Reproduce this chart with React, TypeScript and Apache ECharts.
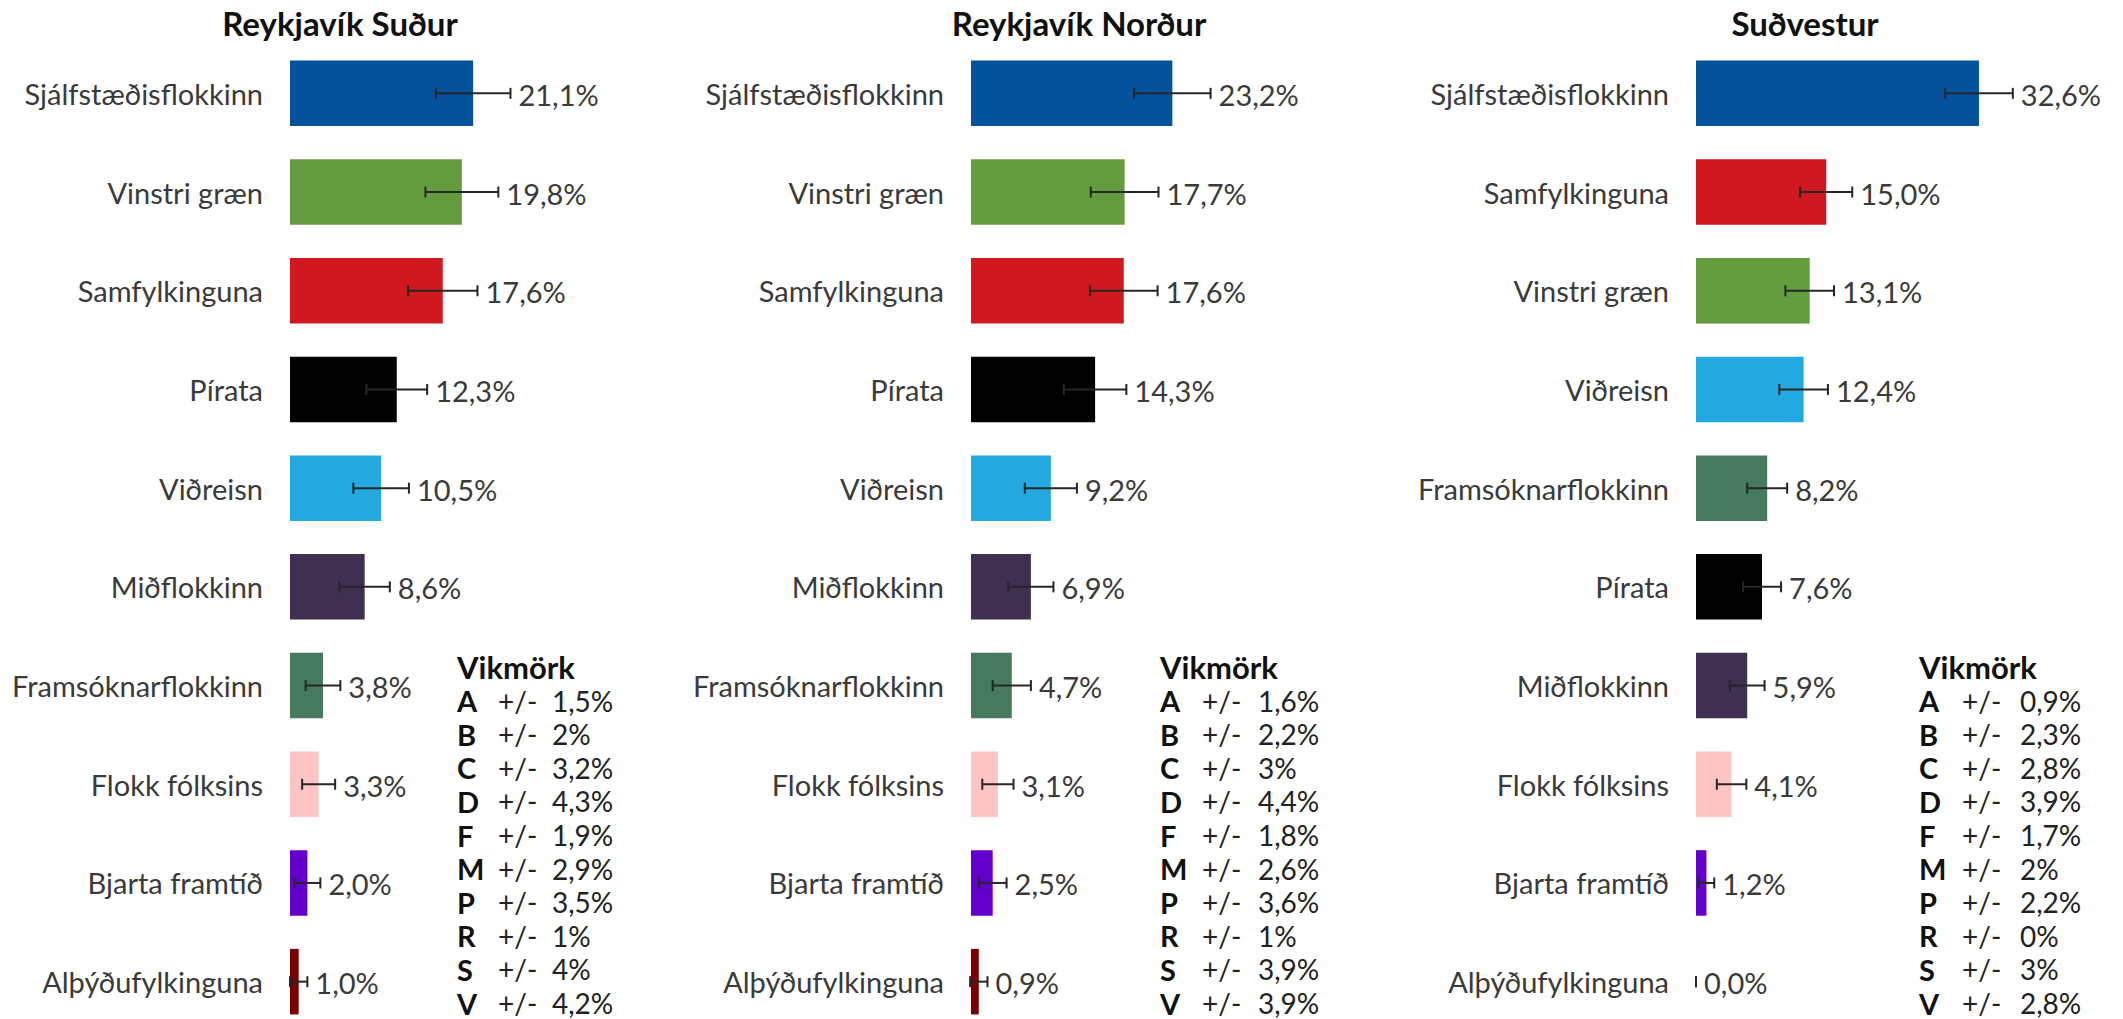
import React, { useEffect, useRef } from "react";
import * as echarts from "echarts";

const TITLES = ["Reykjavík Suður", "Reykjavík Norður", "Suðvestur"];

const CATS_RS = ["Sjálfstæðisflokkinn", "Vinstri græn", "Samfylkinguna", "Pírata", "Viðreisn", "Miðflokkinn", "Framsóknarflokkinn", "Flokk fólksins", "Bjarta framtíð", "Alþýðufylkinguna"];
const VALS_RS = [21.1, 19.8, 17.6, 12.3, 10.5, 8.6, 3.8, 3.3, 2.0, 1.0];

const CATS_RN = ["Sjálfstæðisflokkinn", "Vinstri græn", "Samfylkinguna", "Pírata", "Viðreisn", "Miðflokkinn", "Framsóknarflokkinn", "Flokk fólksins", "Bjarta framtíð", "Alþýðufylkinguna"];
const VALS_RN = [23.2, 17.7, 17.6, 14.3, 9.2, 6.9, 4.7, 3.1, 2.5, 0.9];

const CATS_SV = ["Sjálfstæðisflokkinn", "Samfylkinguna", "Vinstri græn", "Viðreisn", "Framsóknarflokkinn", "Pírata", "Miðflokkinn", "Flokk fólksins", "Bjarta framtíð", "Alþýðufylkinguna"];
const VALS_SV = [32.6, 15.0, 13.1, 12.4, 8.2, 7.6, 5.9, 4.1, 1.2, 0.0];

const LETTERS = ["A", "B", "C", "D", "F", "M", "P", "R", "S", "V"];
const MARGINS_RS = [1.5, 2, 3.2, 4.3, 1.9, 2.9, 3.5, 1, 4, 4.2];
const MARGINS_RN = [1.6, 2.2, 3, 4.4, 1.8, 2.6, 3.6, 1, 3.9, 3.9];
const MARGINS_SV = [0.9, 2.3, 2.8, 3.9, 1.7, 2, 2.2, 0, 3, 2.8];

const PARTY_LETTER: Record<string, string> = {
  "Sjálfstæðisflokkinn": "D",
  "Vinstri græn": "V",
  "Samfylkinguna": "S",
  "Pírata": "P",
  "Viðreisn": "C",
  "Miðflokkinn": "M",
  "Framsóknarflokkinn": "B",
  "Flokk fólksins": "F",
  "Bjarta framtíð": "A",
  "Alþýðufylkinguna": "R",
};

const COLORS: Record<string, string> = {
  "Sjálfstæðisflokkinn": "#04529C",
  "Vinstri græn": "#659C40",
  "Samfylkinguna": "#D0181F",
  "Pírata": "#000000",
  "Viðreisn": "#23A8E0",
  "Miðflokkinn": "#3F2F50",
  "Framsóknarflokkinn": "#467A5D",
  "Flokk fólksins": "#FFC5C5",
  "Bjarta framtíð": "#6300CC",
  "Alþýðufylkinguna": "#7A0000",
};

const CHARTS = [
  { title: TITLES[0], cats: CATS_RS, vals: VALS_RS, margins: MARGINS_RS },
  { title: TITLES[1], cats: CATS_RN, vals: VALS_RN, margins: MARGINS_RN },
  { title: TITLES[2], cats: CATS_SV, vals: VALS_SV, margins: MARGINS_SV },
];

const FONT = "Lato, 'Open Sans', sans-serif";
const BAR_LEFT = [290, 971, 1696];
const TITLE_X = [340, 1079, 1805];
const LEGEND_X = [
  [457, 498, 552],
  [1160, 1202, 1258],
  [1919, 1962, 2020],
];
const X_MAX = 40;
const PX_PER_UNIT = 8.68;
const GRID_TOP = 44;
const GRID_H = 987;
const TEXT_COLOR = "#3a3a3a";

function fmtMargin(v: number) {
  return String(v).replace(".", ",") + "%";
}

function buildOption() {
  const grid: any[] = [];
  const xAxis: any[] = [];
  const yAxis: any[] = [];
  const series: any[] = [];
  const graphic: any[] = [];

  CHARTS.forEach((ch, i) => {
    grid.push({
      left: BAR_LEFT[i],
      top: GRID_TOP,
      width: X_MAX * PX_PER_UNIT,
      height: GRID_H,
      containLabel: false,
    });
    xAxis.push({
      type: "value",
      gridIndex: i,
      min: 0,
      max: X_MAX,
      show: false,
      splitLine: { show: false },
    });
    yAxis.push({
      type: "category",
      gridIndex: i,
      data: ch.cats,
      inverse: true,
      axisLine: { show: false },
      axisTick: { show: false },
      splitLine: { show: false },
      axisLabel: {
        margin: 27,
        fontSize: 29,
        fontFamily: FONT,
        color: TEXT_COLOR,
      },
    });
    const errs = ch.cats.map((c) => ch.margins[LETTERS.indexOf(PARTY_LETTER[c])]);
    series.push({
      type: "bar",
      xAxisIndex: i,
      yAxisIndex: i,
      barCategoryGap: "33.6%",
      data: ch.vals.map((v, k) => ({
        value: v,
        itemStyle: { color: COLORS[ch.cats[k]] },
      })),
    });
    series.push({
      type: "custom",
      xAxisIndex: i,
      yAxisIndex: i,
      clip: false,
      z: 5,
      encode: { x: 0, y: 1 },
      data: ch.vals.map((v, k) => [v, k, errs[k]]),
      renderItem: (params: any, api: any) => {
        const v = api.value(0);
        const c = api.value(1);
        const e = api.value(2);
        const p0 = api.coord([v - e, c]);
        const p1 = api.coord([v + e, c]);
        const h = 5.5;
        const stroke = "#262626";
        return {
          type: "group",
          children: [
            { type: "line", shape: { x1: p0[0], y1: p0[1], x2: p1[0], y2: p1[1] }, style: { stroke, lineWidth: 2 } },
            { type: "line", shape: { x1: p0[0], y1: p0[1] - h, x2: p0[0], y2: p0[1] + h }, style: { stroke, lineWidth: 2 } },
            { type: "line", shape: { x1: p1[0], y1: p1[1] - h, x2: p1[0], y2: p1[1] + h }, style: { stroke, lineWidth: 2 } },
            {
              type: "text",
              x: p1[0] + 8,
              y: p1[1] + 1,
              style: {
                text: v.toFixed(1).replace(".", ",") + "%",
                fill: TEXT_COLOR,
                fontSize: 29,
                fontFamily: FONT,
                textAlign: "left",
                textVerticalAlign: "middle",
              },
            },
          ],
        };
      },
    });

    graphic.push({
      type: "text",
      x: TITLE_X[i],
      y: 23,
      style: {
        text: ch.title,
        fill: "#111",
        fontSize: 33,
        fontWeight: "bold",
        fontFamily: FONT,
        textAlign: "center",
        textVerticalAlign: "middle",
      },
    });
    const lx = LEGEND_X[i];
    const y0 = 667;
    const step = 33.6;
    graphic.push({
      type: "text",
      x: lx[0],
      y: y0,
      style: { text: "Vikmörk", fill: "#111", fontSize: 31, fontWeight: "bold", fontFamily: FONT, textVerticalAlign: "middle" },
    });
    LETTERS.forEach((L, k) => {
      const y = y0 + step * (k + 1);
      graphic.push({
        type: "text",
        x: lx[0],
        y,
        style: { text: L, fill: "#111", fontSize: 29, fontWeight: "bold", fontFamily: FONT, textVerticalAlign: "middle" },
      });
      graphic.push({
        type: "text",
        x: lx[1],
        y,
        style: { text: "+/-", fill: "#222", fontSize: 28, fontFamily: FONT, textVerticalAlign: "middle" },
      });
      graphic.push({
        type: "text",
        x: lx[2],
        y,
        style: { text: fmtMargin(ch.margins[k]), fill: "#222", fontSize: 28, fontFamily: FONT, textVerticalAlign: "middle" },
      });
    });
  });

  return {
    animation: false,
    backgroundColor: "#ffffff",
    grid,
    xAxis,
    yAxis,
    series,
    graphic,
  };
}

export default function App() {
  const ref = useRef<HTMLDivElement>(null);
  useEffect(() => {
    if (!ref.current) return;
    const chart = echarts.init(ref.current, null, { renderer: "svg" });
    chart.setOption(buildOption() as any);
    return () => chart.dispose();
  }, []);
  return (
    <div
      ref={ref}
      style={{ position: "fixed", left: 0, top: 0, width: 2123, height: 1040, background: "#fff" }}
    />
  );
}
